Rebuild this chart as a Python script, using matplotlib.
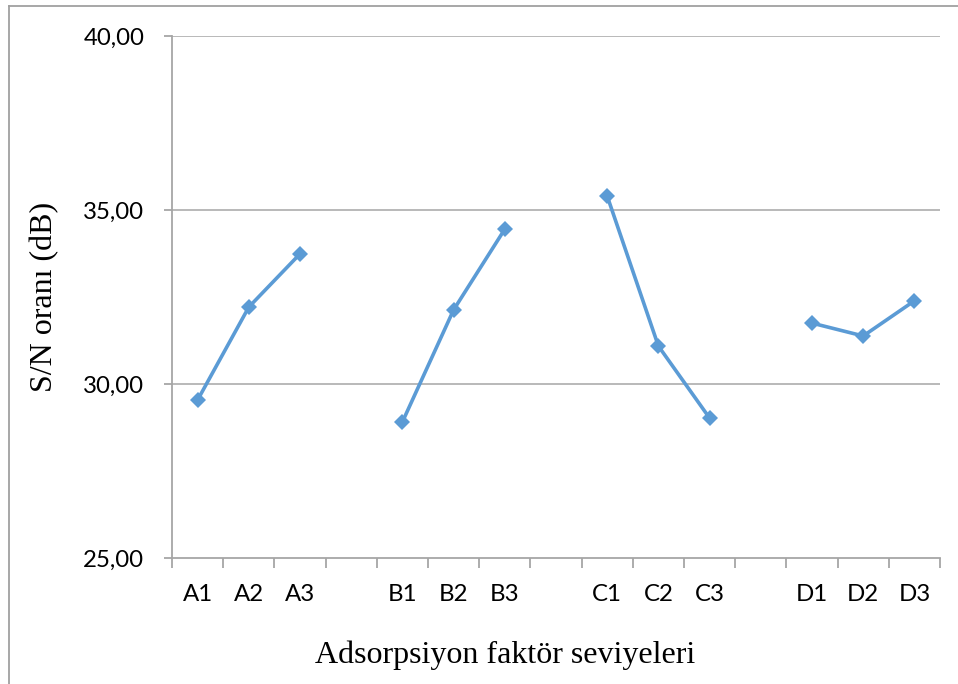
import numpy as np
import matplotlib
matplotlib.use("Agg")
import matplotlib.pyplot as plt
from matplotlib.lines import Line2D

# Factor levels (blank slots separate the factor groups)
categories = ["A1", "A2", "A3", "", "B1", "B2", "B3", "", "C1", "C2", "C3", "", "D1", "D2", "D3"]
sn_ratio = [29.54, 32.21, 33.74, np.nan,
            28.91, 32.13, 34.45, np.nan,
            35.40, 31.09, 29.02, np.nan,
            31.75, 31.38, 32.39]
y_ticks = [25, 30, 35, 40]
y_tick_labels = ["25,00", "30,00", "35,00", "40,00"]

W, H = 958, 684
fig = plt.figure(figsize=(W / 100, H / 100), dpi=100)
ax = fig.add_axes([172 / W, 1 - 558 / H, (940 - 172) / W, (558 - 36) / H])

x = np.arange(len(categories))
ax.plot(x, sn_ratio, color="#5B9BD5", lw=2.6, marker="D", ms=8.2,
        markeredgewidth=0, solid_joinstyle="round", zorder=3)

ax.set_xlim(-0.5, len(categories) - 0.5)
ax.set_ylim(25, 40)

grid_c = "#A6A6A6"
for yv in y_ticks[1:]:
    ax.axhline(yv, color=grid_c, lw=1.1, zorder=1)

for s in ["top", "right"]:
    ax.spines[s].set_visible(False)
for s in ["left", "bottom"]:
    ax.spines[s].set_color(grid_c)
    ax.spines[s].set_linewidth(1.3)

tick_font = dict(family="Lato", size=17.3)
ax.set_yticks(y_ticks)
ax.set_yticklabels(y_tick_labels, fontdict=tick_font)
ax.tick_params(axis="y", direction="out", length=6, width=1.3, color=grid_c, pad=14)

# category boundaries carry the tick marks, centres carry the labels
ax.set_xticks(np.arange(len(categories) + 1) - 0.5)
ax.set_xticklabels([])
ax.tick_params(axis="x", which="major", direction="out", length=7, width=1.3, color=grid_c)
ax.set_xticks(x, minor=True)
ax.set_xticklabels(categories, minor=True, fontdict=tick_font)
ax.tick_params(axis="x", which="minor", length=0, pad=19)

ax.text(45 / W, 1 - 297 / H, "S/N oranı (dB)", transform=fig.transFigure,
        rotation=90, ha="center", va="center", family="Liberation Serif", size=23)
fig.text(505 / W, 1 - 655 / H, "Adsorpsiyon faktör seviyeleri",
         ha="center", va="center", family="Liberation Serif", size=23)

# outer chart frame
frame_c = "#A0A0A0"
fig.add_artist(Line2D([9 / W, 9 / W], [0, 1 - 6 / H], transform=fig.transFigure,
                      color=frame_c, lw=1.3))
fig.add_artist(Line2D([9 / W, 1], [1 - 6 / H, 1 - 6 / H], transform=fig.transFigure,
                      color=frame_c, lw=1.3))

fig.savefig("out.png", dpi=100)
